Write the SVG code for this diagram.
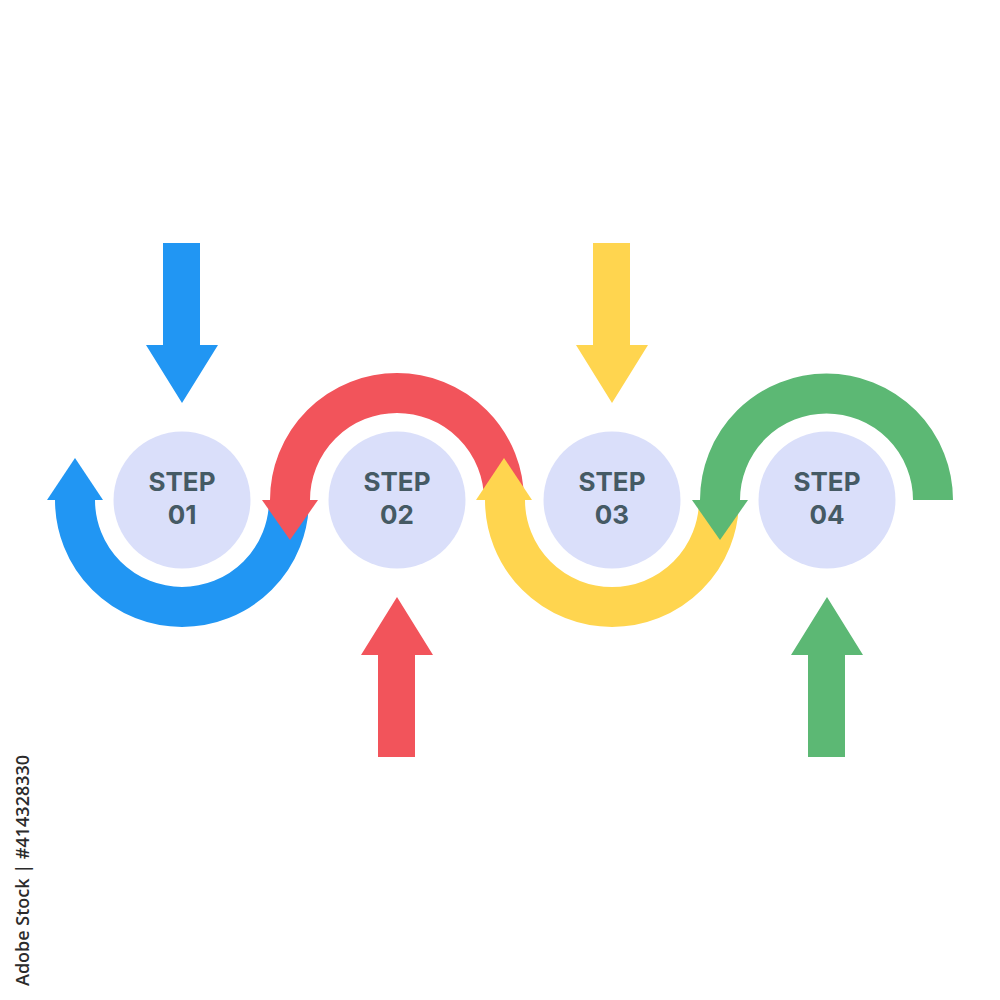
<svg xmlns="http://www.w3.org/2000/svg" width="1000" height="1000" viewBox="0 0 1000 1000">
<style>
.arc{fill:none;stroke-width:40;stroke-linecap:butt}
.node circle{fill:#dadffa}
.node text{font-family:Inter,"Liberation Sans",sans-serif;font-weight:700;font-size:26px;fill:#455a64;text-anchor:middle}
.blue{fill:#2196f3}.red{fill:#f2545b}.yellow{fill:#ffd54f}.green{fill:#5cb874}
</style>
<rect width="1000" height="1000" fill="#ffffff"/>
<g id="node1" class="node"><circle cx="182" cy="500" r="68.5"/><text x="182" y="491">STEP</text><text x="182" y="524">01</text></g>
<g id="node2" class="node"><circle cx="397" cy="500" r="68.5"/><text x="397" y="491">STEP</text><text x="397" y="524">02</text></g>
<g id="node3" class="node"><circle cx="612" cy="500" r="68.5"/><text x="612" y="491">STEP</text><text x="612" y="524">03</text></g>
<g id="node4" class="node"><circle cx="827" cy="500" r="68.5"/><text x="827" y="491">STEP</text><text x="827" y="524">04</text></g>
<g id="connectors">
<path class="arc" stroke="#2196f3" d="M75 500 A107 107 0 0 0 289 500"/>
<polygon class="blue" points="47,500 103,500 75,458"/>
<path class="arc" stroke="#f2545b" d="M290 500 A107 107 0 0 1 504 500"/>
<polygon class="red" points="262,500 318,500 290,540"/>
<path class="arc" stroke="#ffd54f" d="M505 500 A107 107 0 0 0 719 500"/>
<polygon class="yellow" points="476,500 532,500 504,458"/>
<path class="arc" stroke="#5cb874" d="M720 500 A106.5 106.5 0 0 1 933 500"/>
<polygon class="green" points="692,500 748,500 720,540"/>
<polygon class="blue" points="163,243 200,243 200,345 218,345 182,403 146,345 163,345"/>
<polygon class="yellow" points="593,243 630,243 630,345 648,345 612,403 576,345 593,345"/>
<polygon class="red" points="378,757 415,757 415,655 433,655 397,597 361,655 378,655"/>
<polygon class="green" points="808,757 845,757 845,655 863,655 827,597 791,655 808,655"/>
</g>
<text transform="translate(29 986) rotate(-90)" font-family="'Open Sans','Liberation Sans',sans-serif" font-size="18" font-weight="600" fill="#2b2b2b">Adobe Stock | #414328330</text>
</svg>
